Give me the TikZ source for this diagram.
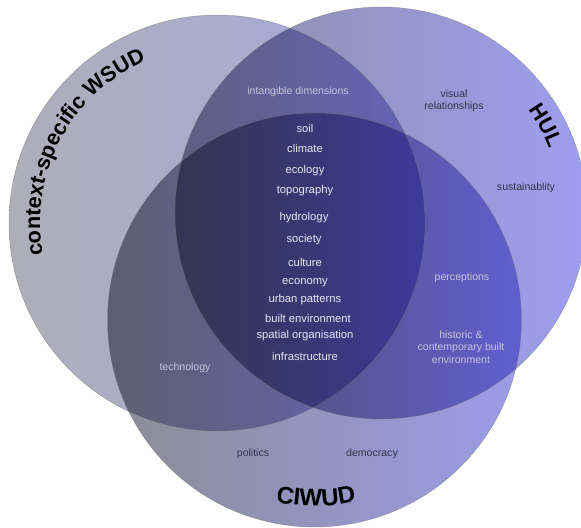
\documentclass[tikz,border=0pt]{standalone}
\usepackage{fontspec}
\setmainfont{Liberation Sans}
\usetikzlibrary{calc,decorations.text}

\definecolor{vdWsudL}{HTML}{AEAEB8}
\definecolor{vdWsudR}{HTML}{A8A8E2}
\definecolor{vdHulL}{HTML}{8E8EA4}
\definecolor{vdHulR}{HTML}{9E9EF0}
\definecolor{vdCiwudL}{HTML}{8C8C94}
\definecolor{vdCiwudR}{HTML}{9C9CEA}
\definecolor{vdCore}{HTML}{E6E6F2}
\definecolor{vdMid}{HTML}{C4C4DE}
\definecolor{vdOuter}{HTML}{34344A}

\tikzset{
  setdisc/.style={blend mode=multiply},
  rim/.style={draw=black!55, line width=0.35pt, opacity=0.6},
  core/.style={font=\fontsize{9.6}{11}\selectfont, text=vdCore, inner sep=0pt},
  pair/.style={font=\fontsize{9}{10.5}\selectfont, text=vdMid, align=center, inner sep=0pt},
  outer/.style={font=\fontsize{9}{10.5}\selectfont, text=vdOuter, align=center, inner sep=0pt},
  setname/.style={decorate, decoration={text along path, text align=center,
      text={|\fontsize{18.5}{20}\selectfont\bfseries|#1}}},
  bigname/.style={decorate, decoration={text along path, text align=center,
      text={|\fontsize{20.5}{22}\selectfont\bfseries|#1}}}
}

\begin{document}
\begin{tikzpicture}[x=0.03cm, y=0.03cm]
  \useasboundingbox (0,0) rectangle (581,528);
  \clip (0,0) rectangle (581,528);

  \coordinate (wsud)  at (217,305);
  \coordinate (hul)   at (381,315);
  \coordinate (ciwud) at (314.5,208);

  % the three sets, multiplied where they overlap
  \shade[setdisc, left color=vdWsudL, right color=vdWsudR] (wsud) circle[radius=208];
  \shade[setdisc, left color=vdHulL, right color=vdHulR] (hul) circle[radius=206];
  \shade[setdisc, left color=vdCiwudL, right color=vdCiwudR] (ciwud) circle[radius=207];
  \draw[rim] (wsud) circle[radius=208];
  \draw[rim] (hul) circle[radius=206];
  \draw[rim] (ciwud) circle[radius=207];

  % set names along the rims
  \path[setname={context-specific WSUD}] ($(wsud)+(200:177)$) arc[start angle=200, end angle=104, radius=177];
  \path[setname={HUL}] ($(hul)+(42:180)$) arc[start angle=42, end angle=14, radius=180];
  \path[bigname={CIWUD}] ($(ciwud)+(248:186)$) arc[start angle=248, end angle=293, radius=186];

  % shared by all three
  \node[core] (soil)      at (305,400) {soil};
  \node[core] (climate)   at (305,380) {climate};
  \node[core] (ecology)   at (305,357) {ecology};
  \node[core] (topo)      at (305,337) {topography};
  \node[core] (hydro)     at (304,310) {hydrology};
  \node[core] (society)   at (304,288) {society};
  \node[core] (culture)   at (305,266) {culture};
  \node[core] (economy)   at (305,245) {economy};
  \node[core] (urban)     at (305,228) {urban patterns};
  \node[core] (built)     at (308,210) {built environment};
  \node[core] (spatial)   at (305,192) {spatial organisation};
  \node[core] (infra)     at (305,172) {infrastructure};

  % pairwise overlaps
  \node[pair] (intangible) at (298,436) {intangible dimensions};
  \node[pair] (percept)    at (462,250) {perceptions};
  \node[pair] (historic)   at (461,181) {historic \&\\contemporary built\\environment};
  \node[pair] (tech)       at (185,160) {technology};

  % single sets
  \node[outer] (visual)    at (454,427) {visual\\relationships};
  \node[outer] (sustain)   at (526,340) {sustainablity};
  \node[outer] (politics)  at (253,74)  {politics};
  \node[outer] (democracy) at (372,74)  {democracy};
\end{tikzpicture}
\end{document}
